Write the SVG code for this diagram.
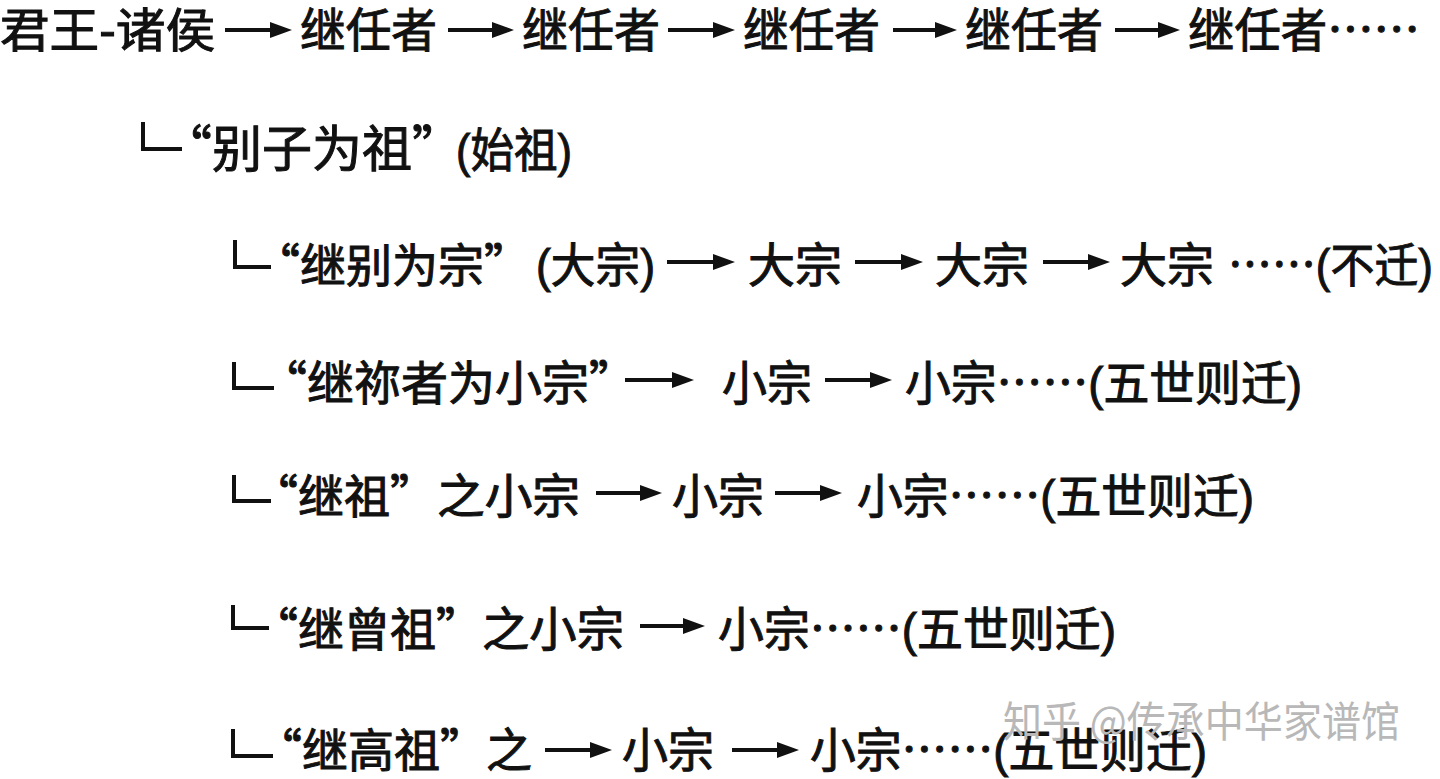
<svg xmlns="http://www.w3.org/2000/svg" width="1440" height="779" viewBox="0 0 1440 779">
<style>
.t{font-family:"Liberation Sans","Noto Sans CJK SC",sans-serif;font-size:47px;fill:#111;stroke:#111;stroke-width:1px}
.q{font-family:"Noto Sans CJK SC","Liberation Sans",sans-serif;font-size:47px;fill:#111;stroke:#111;stroke-width:1px}
.cj{font-family:"Noto Sans CJK SC",sans-serif}
.big{font-size:50px}
.sm{font-size:46px}
.wm{font-family:"Noto Sans CJK SC","Liberation Sans",sans-serif;font-size:42px;fill:#b8b8b8}
.ar{stroke:#111;stroke-width:4;fill:none;marker-end:url(#ah)}
.br{stroke:#111;stroke-width:4;fill:none}
</style>
<defs>
<marker id="ah" viewBox="0 0 22 16" refX="10" refY="8" markerWidth="22" markerHeight="16" markerUnits="userSpaceOnUse" orient="auto">
<path d="M0,0 L22,8 L0,16 z" fill="#111"/>
</marker>
</defs>
<rect width="1440" height="779" fill="#fff"/>

<g id="connectors">
<path class="ar" d="M225,30 H280"/>
<path class="ar" d="M448,30 H502"/>
<path class="ar" d="M668,30 H723"/>
<path class="ar" d="M893,30 H945"/>
<path class="ar" d="M1115,30 H1168"/>
<path class="br" d="M143,122 V149 H182"/>
<path class="br" d="M235,240 V267 H271"/>
<path class="ar" d="M667,262 H723"/>
<path class="ar" d="M855,262 H911"/>
<path class="ar" d="M1043,262 H1098"/>
<path class="br" d="M234,362 V388 H274"/>
<path class="ar" d="M625,380 H682"/>
<path class="ar" d="M825,380 H880"/>
<path class="br" d="M234,475 V501 H271"/>
<path class="ar" d="M596,493 H650"/>
<path class="ar" d="M775,493 H830"/>
<path class="br" d="M233,605 V628 H269"/>
<path class="ar" d="M640,626 H693"/>
<path class="br" d="M233,729 V756 H273"/>
<path class="ar" d="M545,750 H600"/>
<path class="ar" d="M732,750 H787"/>
</g>

<g id="row1">
<text class="t" x="0" y="47" textLength="215" lengthAdjust="spacingAndGlyphs">君王-诸侯</text>
<text class="t" x="300" y="47" textLength="137" lengthAdjust="spacingAndGlyphs">继任者</text>
<text class="t" x="522" y="47" textLength="138" lengthAdjust="spacingAndGlyphs">继任者</text>
<text class="t" x="743" y="47" textLength="137" lengthAdjust="spacingAndGlyphs">继任者</text>
<text class="t" x="965" y="47" textLength="138" lengthAdjust="spacingAndGlyphs">继任者</text>
<text class="t" x="1188" y="47" textLength="232" lengthAdjust="spacingAndGlyphs">继任者<tspan class="cj">……</tspan></text>
</g>

<g id="row2">
<text class="q big" x="162" y="167">“别子为祖”</text>
<text class="t" x="456" y="167" textLength="116" lengthAdjust="spacingAndGlyphs">(始祖)</text>
</g>

<g id="row3">
<text class="q sm" x="254" y="282">“继别为宗”</text>
<text class="t" x="536" y="282" textLength="119" lengthAdjust="spacingAndGlyphs">(大宗)</text>
<text class="t" x="748" y="282" textLength="94" lengthAdjust="spacingAndGlyphs">大宗</text>
<text class="t" x="935" y="282" textLength="94" lengthAdjust="spacingAndGlyphs">大宗</text>
<text class="t" x="1120" y="282" textLength="94" lengthAdjust="spacingAndGlyphs">大宗</text>
<text class="t" x="1228" y="282" textLength="205" lengthAdjust="spacingAndGlyphs"><tspan class="cj">……</tspan>(不迁)</text>
</g>

<g id="row4">
<text class="q" x="260" y="400">“继祢者为小宗”</text>
<text class="t" x="722" y="400" textLength="90" lengthAdjust="spacingAndGlyphs">小宗</text>
<text class="t" x="905" y="400" textLength="397" lengthAdjust="spacingAndGlyphs">小宗<tspan class="cj">……</tspan>(五世则迁)</text>
</g>

<g id="row5">
<text class="q sm" x="252" y="513">“继祖”</text>
<text class="t" x="437" y="513" textLength="143" lengthAdjust="spacingAndGlyphs">之小宗</text>
<text class="t" x="672" y="513" textLength="92" lengthAdjust="spacingAndGlyphs">小宗</text>
<text class="t" x="857" y="513" textLength="397" lengthAdjust="spacingAndGlyphs">小宗<tspan class="cj">……</tspan>(五世则迁)</text>
</g>

<g id="row6">
<text class="q sm" x="252" y="646">“继曾祖”</text>
<text class="t" x="482" y="646" textLength="142" lengthAdjust="spacingAndGlyphs">之小宗</text>
<text class="t" x="718" y="646" textLength="398" lengthAdjust="spacingAndGlyphs">小宗<tspan class="cj">……</tspan>(五世则迁)</text>
</g>

<g id="row7">
<text class="q sm" x="256" y="767">“继高祖”</text>
<text class="t" x="486" y="767" textLength="46" lengthAdjust="spacingAndGlyphs">之</text>
<text class="t" x="622" y="767" textLength="92" lengthAdjust="spacingAndGlyphs">小宗</text>
<text class="t" x="810" y="767" textLength="397" lengthAdjust="spacingAndGlyphs">小宗<tspan class="cj">……</tspan>(五世则迁)</text>
</g>

<g id="watermark">
<text class="wm" x="1003" y="737" textLength="397" lengthAdjust="spacingAndGlyphs">知乎 @传承中华家谱馆</text>
</g>
</svg>
